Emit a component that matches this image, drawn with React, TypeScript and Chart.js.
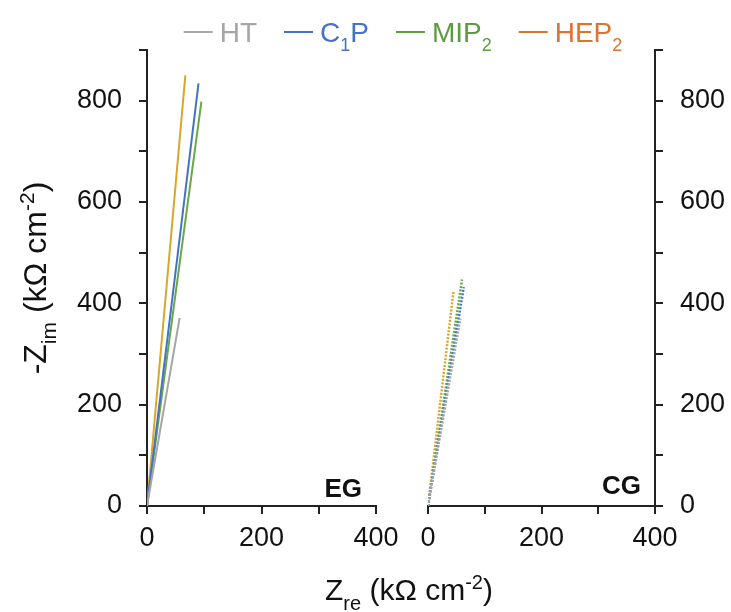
import React, { useEffect, useRef } from 'react';
import { Chart, registerables } from 'chart.js';

Chart.register(...registerables);

const FONT = '"Liberation Sans", Arial, Helvetica, sans-serif';

// Series names (legend pieces: plain text + subscripts)
const seriesNames = ['HT', 'C1P', 'MIP2', 'HEP2'];
const legendParts = [
  [{ t: 'HT' }],
  [{ t: 'C' }, { t: '1', sub: true }, { t: 'P' }],
  [{ t: 'MIP' }, { t: '2', sub: true }],
  [{ t: 'HEP' }, { t: '2', sub: true }],
];
const lineColors = ['#a6a6a6', '#4472c4', '#68a846', '#d8a72c'];
const legendColors = ['#a6a6a6', '#4472c4', '#5e9b3e', '#dd7330'];

// Panel labels
const panelLabels = ['EG', 'CG'];

// Axis ticks
const xTicks = [0, 100, 200, 300, 400];
const xLabelTicks = [0, 200, 400];
const yTicks = [0, 100, 200, 300, 400, 500, 600, 700, 800, 900];
const yLabelTicks = [0, 200, 400, 600, 800];

// EG panel: Zre (x) and -Zim (y), kΩ cm-2
const egHT_x = [0, 57];
const egHT_y = [0, 371];
const egC1P_x = [0, 90];
const egC1P_y = [0, 834];
const egMIP2_x = [0, 95];
const egMIP2_y = [0, 798];
const egHEP2_x = [0, 67];
const egHEP2_y = [0, 850];

// CG panel
const cgHT_x = [0, 57];
const cgHT_y = [0, 370];
const cgC1P_x = [0, 63];
const cgC1P_y = [0, 432];
const cgMIP2_x = [0, 60];
const cgMIP2_y = [0, 447];
const cgHEP2_x = [0, 45];
const cgHEP2_y = [0, 425];

const egX = [egHT_x, egC1P_x, egMIP2_x, egHEP2_x];
const egY = [egHT_y, egC1P_y, egMIP2_y, egHEP2_y];
const cgX = [cgHT_x, cgC1P_x, cgMIP2_x, cgHEP2_x];
const cgY = [cgHT_y, cgC1P_y, cgMIP2_y, cgHEP2_y];

const toPts = (xs: number[], ys: number[]) => xs.map((x, i) => ({ x, y: ys[i] }));

type Part = { t: string; sub?: boolean; sup?: boolean };

function measureRich(ctx: CanvasRenderingContext2D, parts: Part[], size: number, bold = false) {
  const big = `${bold ? 'bold ' : ''}${size}px ${FONT}`;
  const small = `${bold ? 'bold ' : ''}${Math.round(size * 0.66)}px ${FONT}`;
  return parts.map((p) => {
    ctx.font = p.sub || p.sup ? small : big;
    return ctx.measureText(p.t).width;
  });
}

function drawRich(
  ctx: CanvasRenderingContext2D,
  parts: Part[],
  x: number,
  y: number,
  size: number,
  color: string,
  align: 'left' | 'center' | 'right',
  bold = false
) {
  const big = `${bold ? 'bold ' : ''}${size}px ${FONT}`;
  const small = `${bold ? 'bold ' : ''}${Math.round(size * 0.66)}px ${FONT}`;
  const widths = measureRich(ctx, parts, size, bold);
  const total = widths.reduce((a, b) => a + b, 0);
  let cx = align === 'left' ? x : align === 'center' ? x - total / 2 : x - total;
  ctx.fillStyle = color;
  ctx.textAlign = 'left';
  ctx.textBaseline = 'alphabetic';
  parts.forEach((p, i) => {
    ctx.font = p.sub || p.sup ? small : big;
    const dy = p.sub ? size * 0.32 : p.sup ? -size * 0.36 : 0;
    ctx.fillText(p.t, cx, y + dy);
    cx += widths[i];
  });
  return total;
}

const yTitle: Part[] = [{ t: '-Z' }, { t: 'im', sub: true }, { t: ' (kΩ cm' }, { t: '-2', sup: true }, { t: ')' }];
const xTitle: Part[] = [{ t: 'Z' }, { t: 're', sub: true }, { t: ' (kΩ cm' }, { t: '-2', sup: true }, { t: ')' }];

const textPlugin = {
  id: 'textPlugin',
  afterDraw(chart: any) {
    const ctx: CanvasRenderingContext2D = chart.ctx;
    const area = chart.chartArea;
    ctx.save();

    // Legend
    const size = 28;
    const lineLen = 29;
    const lineGap = 7;
    const itemGap = 27;
    const textWidths = legendParts.map((p) => measureRich(ctx, p as Part[], size).reduce((a, b) => a + b, 0));
    const totalW = textWidths.reduce((a, w) => a + lineLen + lineGap + w, 0) + itemGap * (legendParts.length - 1);
    let lx = (area.left + area.right) / 2 - totalW / 2 + 2;
    const baseY = area.top - 8;
    legendParts.forEach((parts, i) => {
      ctx.strokeStyle = legendColors[i];
      ctx.lineWidth = 2;
      ctx.beginPath();
      ctx.moveTo(lx, baseY - 10);
      ctx.lineTo(lx + lineLen, baseY - 10);
      ctx.stroke();
      lx += lineLen + lineGap;
      drawRich(ctx, parts as Part[], lx, baseY, size, legendColors[i], 'left');
      lx += textWidths[i] + itemGap;
    });

    // Panel labels
    const xL = chart.scales.xL;
    const xR = chart.scales.xR;
    drawRich(ctx, [{ t: panelLabels[0] }], xL.right - 14, area.bottom - 9, 26, '#111', 'right', true);
    drawRich(ctx, [{ t: panelLabels[1] }], xR.right - 14, area.bottom - 12, 26, '#111', 'right', true);

    // Axis titles
    drawRich(ctx, xTitle, (area.left + area.right) / 2 + 8, 600, 30, '#111', 'center');
    ctx.translate(46, (area.top + area.bottom) / 2);
    ctx.rotate(-Math.PI / 2);
    drawRich(ctx, yTitle, 0, 0, 32, '#111', 'center');
    ctx.restore();
  },
};

const tickFont = { family: FONT, size: 27 };

const xAxis = (weight: number) => ({
  type: 'linear',
  position: 'bottom',
  stack: 'panels',
  stackWeight: weight,
  min: 0,
  max: 400,
  afterBuildTicks: (s: any) => {
    s.ticks = xTicks.map((v) => ({ value: v }));
  },
  ticks: {
    autoSkip: false,
    maxRotation: 0,
    font: tickFont,
    color: '#111',
    padding: 8,
    callback: (v: number) => (xLabelTicks.includes(v) ? String(v) : ''),
  },
  grid: { drawOnChartArea: false, drawTicks: true, tickLength: 8, color: '#222', lineWidth: 2 },
  border: { display: true, color: '#222', width: 2 },
  afterFit: (s: any) => {
    s.height = 106;
  },
});

const yAxis = (pos: 'left' | 'right', width: number) => ({
  type: 'linear',
  position: pos,
  min: 0,
  max: 900,
  afterBuildTicks: (s: any) => {
    s.ticks = yTicks.map((v) => ({ value: v }));
  },
  ticks: {
    autoSkip: false,
    font: tickFont,
    color: '#111',
    padding: 17,
    callback: (v: number) => (yLabelTicks.includes(v) ? String(v) : ''),
  },
  grid: { drawOnChartArea: false, drawTicks: true, tickLength: 8, color: '#222', lineWidth: 2 },
  border: { display: true, color: '#222', width: 2 },
  afterFit: (s: any) => {
    s.width = width;
  },
});

export default function App() {
  const ref = useRef<HTMLCanvasElement>(null);

  useEffect(() => {
    if (!ref.current) return;
    const datasets: any[] = [];
    seriesNames.forEach((name, i) => {
      datasets.push({
        label: `${name} EG`,
        data: toPts(egX[i], egY[i]),
        xAxisID: 'xL',
        yAxisID: 'y',
        borderColor: lineColors[i],
        borderWidth: 2,
        pointRadius: 0,
        tension: 0,
        showLine: true,
        fill: false,
      });
    });
    seriesNames.forEach((name, i) => {
      datasets.push({
        label: `${name} CG`,
        data: toPts(cgX[i], cgY[i]),
        xAxisID: 'xR',
        yAxisID: 'y',
        borderColor: lineColors[i],
        borderWidth: 2.5,
        borderDash: [2, 1.5],
        pointRadius: 0,
        tension: 0,
        showLine: true,
        fill: false,
      });
    });

    const chart = new Chart(ref.current, {
      type: 'scatter',
      data: { datasets },
      options: {
        responsive: false,
        animation: false,
        devicePixelRatio: 1,
        layout: { padding: { top: 50, left: 0, right: 0, bottom: 0 } },
        plugins: { legend: { display: false }, tooltip: { enabled: false } },
        scales: {
          xL: xAxis(229),
          xGap: {
            type: 'linear',
            position: 'bottom',
            stack: 'panels',
            stackWeight: 52,
            display: false,
          },
          xR: xAxis(227),
          y: yAxis('left', 147),
          y2: yAxis('right', 76),
        },
      } as any,
      plugins: [textPlugin],
    });
    return () => chart.destroy();
  }, []);

  return (
    <div style={{ position: 'absolute', left: 0, top: 0, width: 731, height: 612, background: '#fff' }}>
      <canvas ref={ref} width={731} height={612} style={{ display: 'block', width: 731, height: 612 }} />
    </div>
  );
}
